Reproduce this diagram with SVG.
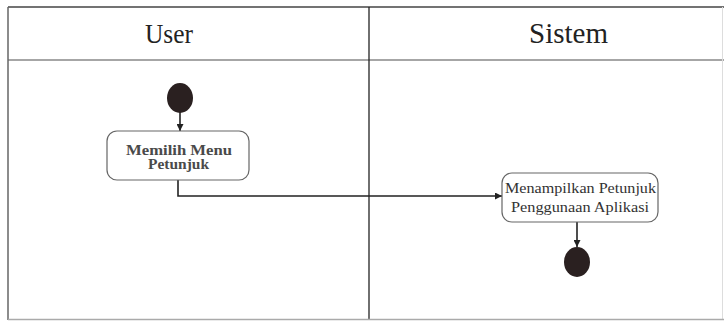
<svg xmlns="http://www.w3.org/2000/svg" width="724" height="321" viewBox="0 0 724 321">
<defs>
<style>
.box{fill:#fff;stroke:#666;stroke-width:1.2}
.dot{fill:#2a2020}
.edge{fill:none;stroke:#222;stroke-width:1.6}
</style>
<marker id="arr" viewBox="0 0 10 10" refX="10" refY="5" markerWidth="7" markerHeight="7" orient="auto" markerUnits="userSpaceOnUse">
<path d="M0,0 L10,5 L0,10 z" fill="#222"/>
</marker>
</defs>
<rect width="724" height="321" fill="#fff"/>
<g id="lanes">
<line x1="8" y1="7" x2="724" y2="7" stroke="#444" stroke-width="1.5"/>
<line x1="8" y1="60" x2="724" y2="60" stroke="#888" stroke-width="1.5"/>
<line x1="8" y1="7" x2="8" y2="320" stroke="#666" stroke-width="1.5"/>
<line x1="369" y1="7" x2="369" y2="320" stroke="#222" stroke-width="1.3"/>
<line x1="722.5" y1="7" x2="722.5" y2="320" stroke="#ddd" stroke-width="1"/>
<line x1="8" y1="319.5" x2="724" y2="319.5" stroke="#aaa" stroke-width="1.5"/>
<text x="169" y="43" font-family="Liberation Serif, serif" font-size="27" fill="#222" text-anchor="middle" textLength="48" lengthAdjust="spacingAndGlyphs">User</text>
<text x="568.5" y="43" font-family="Liberation Serif, serif" font-size="29" fill="#222" text-anchor="middle" textLength="79" lengthAdjust="spacingAndGlyphs">Sistem</text>
</g>
<g id="edges">
<line class="edge" x1="180" y1="112" x2="180" y2="131" marker-end="url(#arr)"/>
<polyline class="edge" points="178,180 178,196 502,196" marker-end="url(#arr)"/>
<line class="edge" x1="577" y1="222" x2="577" y2="247" marker-end="url(#arr)"/>
</g>
<g id="start">
<ellipse class="dot" cx="180" cy="98" rx="13" ry="15"/>
</g>
<g id="memilih">
<rect class="box" x="107" y="131" width="142" height="49" rx="10"/>
<text x="179" y="155" font-family="Liberation Serif, serif" font-size="14" font-weight="bold" fill="#4a4a4a" text-anchor="middle" textLength="106" lengthAdjust="spacingAndGlyphs">Memilih Menu</text>
<text x="178.5" y="168.5" font-family="Liberation Serif, serif" font-size="14" font-weight="bold" fill="#4a4a4a" text-anchor="middle" textLength="61" lengthAdjust="spacingAndGlyphs">Petunjuk</text>
</g>
<g id="menampilkan">
<rect class="box" x="502" y="173" width="156" height="49" rx="10"/>
<text x="580.5" y="193" font-family="Liberation Serif, serif" font-size="15.5" fill="#333" text-anchor="middle" textLength="151" lengthAdjust="spacingAndGlyphs">Menampilkan Petunjuk</text>
<text x="580" y="212" font-family="Liberation Serif, serif" font-size="15.5" fill="#333" text-anchor="middle" textLength="138" lengthAdjust="spacingAndGlyphs">Penggunaan Aplikasi</text>
</g>
<g id="end">
<ellipse class="dot" cx="577" cy="262" rx="13" ry="15"/>
</g>
</svg>
